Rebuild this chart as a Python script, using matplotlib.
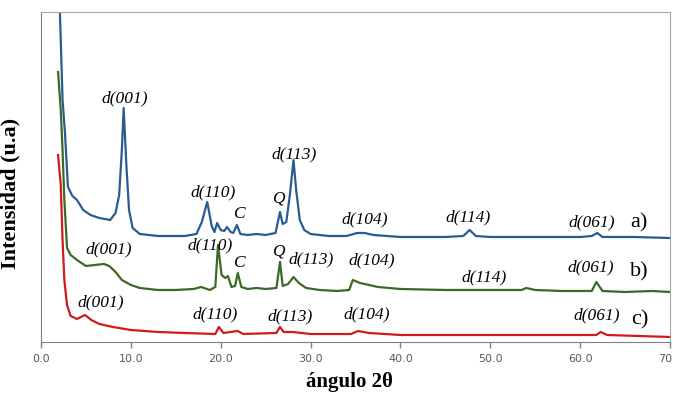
import numpy as np
import matplotlib.pyplot as plt

# curva a)
xa = [2.05, 2.2, 2.4, 2.67, 3.0, 3.5, 4.0, 4.7, 5.5, 6.5, 7.7, 8.3, 8.7, 9.0, 9.2, 9.5, 9.8, 10.2,
      11.0, 13.0, 16.0, 17.3, 17.9, 18.5, 19.0, 19.3, 19.6, 20.0, 20.4, 20.7, 21.1, 21.4, 21.8, 22.2,
      23.0, 24.0, 25.0, 26.1, 26.6, 26.9, 27.3, 27.7, 28.1, 28.4, 28.8, 29.3, 30.0, 32.0, 34.0, 35.2,
      36.0, 37.0, 40.0, 45.0, 47.0, 47.7, 48.4, 50.0, 55.0, 60.0, 61.3, 61.9, 62.5, 66.0, 70.0]
ya = [345, 302, 242, 209, 155, 146, 142, 132, 127, 124, 122, 129, 147, 192, 234, 177, 132, 114,
      108, 106, 106, 108, 120, 140, 116, 110, 119, 112, 111, 115, 110, 109, 117, 108,
      107, 108, 107, 109, 130, 118, 120, 147, 182, 152, 122, 112, 108, 106, 106, 109,
      109, 107, 105, 105, 106, 112, 106, 105, 105, 105, 106, 109, 105, 105, 104]

# curva b)
xb = [1.9, 2.2, 2.4, 2.6, 2.9, 3.3, 4.0, 5.0, 6.0, 7.0, 7.6, 8.3, 9.0, 10.0, 11.0, 13.0, 15.0,
      17.0, 17.8, 18.8, 19.4, 19.7, 20.1, 20.5, 20.8, 21.2, 21.6, 21.9, 22.3, 23.0, 24.0, 25.0,
      26.2, 26.6, 26.9, 27.5, 28.1, 28.7, 29.5, 31.0, 33.0, 34.3, 34.7, 35.5, 36.5, 37.5, 40.0,
      45.0, 50.0, 53.5, 54.0, 55.0, 58.0, 61.3, 61.8, 62.5, 65.0, 68.0, 70.0]
yb = [270, 232, 192, 142, 94, 87, 82, 76, 77, 78, 76, 70, 62, 57, 54, 52, 52,
      53, 55, 52, 55, 97, 67, 64, 66, 55, 56, 69, 55, 53, 54, 53,
      54, 80, 56, 58, 65, 59, 54, 52, 51, 52, 62, 59, 57, 55, 53,
      52, 52, 52, 54, 52, 51, 51, 60, 51, 50, 51, 50]

# curva c)
xc = [1.9, 2.2, 2.4, 2.6, 2.9, 3.3, 4.0, 4.9, 5.6, 6.5, 8.0, 10.0, 13.0, 16.0, 19.4, 19.8, 20.3,
      21.9, 22.5, 26.2, 26.6, 27.0, 28.0, 30.0, 34.5, 35.3, 36.5, 40.0, 50.0, 61.8, 62.3, 63.0, 70.0]
yc = [187, 157, 102, 62, 37, 26, 23, 27, 22, 18, 15, 12, 10, 9, 8, 15, 9,
      11, 8, 9, 15, 10, 10, 8, 8, 11, 9, 7, 7, 7, 10, 7, 5]

# etiquetas de picos: (texto, x, y)
labels_a = [('d(001)', 9.3, 244), ('d(110)', 19.1, 150), ('C', 22.0, 128), ('Q', 26.4, 143),
            ('d(113)', 28.2, 188), ('d(104)', 36.0, 123), ('d(114)', 47.5, 125), ('d(061)', 61.3, 120)]
labels_b = [('d(001)', 7.5, 93), ('d(110)', 18.8, 97), ('C', 22.0, 79), ('Q', 26.4, 90),
            ('d(113)', 30.1, 83), ('d(104)', 36.8, 82), ('d(114)', 49.3, 65), ('d(061)', 61.2, 75)]
labels_c = [('d(001)', 6.6, 40), ('d(110)', 19.4, 28), ('d(113)', 27.7, 26),
            ('d(104)', 36.3, 28), ('d(061)', 61.8, 27)]
series_names = [('a)', 119), ('b)', 70), ('c)', 22)]

blue = '#2b5b93'
green = '#3b6a28'
red = '#d11a1a'

fig = plt.figure(figsize=(6.73, 3.96), dpi=100)
ax = fig.add_axes([0.0609, 0.1364, 0.9346, 0.8333])

ax.plot(xa, ya, color=blue, lw=1.6)
ax.plot(xb, yb, color=green, lw=1.6)
ax.plot(xc, yc, color=red, lw=1.6)

for txt, x, y in labels_a + labels_b + labels_c:
    ax.text(x, y, txt, ha='center', va='center', fontsize=12.5, style='italic',
            family='Liberation Serif')
for txt, y in series_names:
    ax.text(66.6, y, txt, ha='center', va='center', fontsize=16, family='Liberation Serif')

ax.set_xlim(0, 70)
ax.set_ylim(0, 330)
ax.set_xticks(np.arange(0, 71, 10))
ax.set_xticklabels(['%.1f' % v for v in np.arange(0, 71, 10)])
ax.set_yticks([])
ax.tick_params(axis='x', direction='out', length=4, width=1, color='#808080',
               labelsize=8, labelcolor='#595959', pad=5)
for s in ax.spines.values():
    s.set_color('#a6a6a6')
ax.spines['left'].set_color('#808080')
ax.spines['bottom'].set_color('#808080')

ax.set_xlabel('ángulo 2θ', fontsize=15, fontweight='bold', family='Liberation Serif')
ax.xaxis.set_label_coords(0.491, -0.09)
ax.set_ylabel('Intensidad (u.a)', fontsize=16, fontweight='bold', family='Liberation Serif')
ax.yaxis.set_label_coords(-0.033, 0.45)

fig.savefig('out.png', dpi=100)
